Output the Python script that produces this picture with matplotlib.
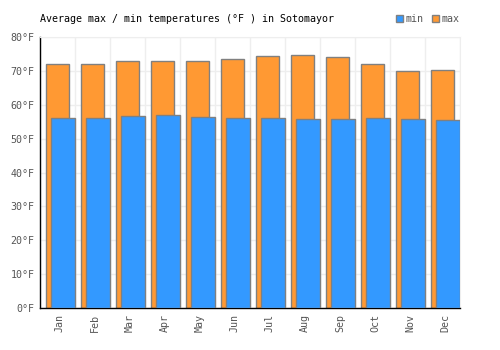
import matplotlib
matplotlib.use('Agg')
import matplotlib.pyplot as plt
import matplotlib.patches as mpatches
import numpy as np

plt.rcParams['font.family'] = ['DejaVu Sans Mono']

MONTHS = ['Jan', 'Feb', 'Mar', 'Apr', 'May', 'Jun',
          'Jul', 'Aug', 'Sep', 'Oct', 'Nov', 'Dec']
T_MAX = [72.0, 72.2, 72.8, 72.8, 73.0, 73.4, 74.5, 74.8, 74.2, 72.0, 70.0, 70.2]
T_MIN = [56.0, 56.0, 56.6, 57.0, 56.5, 56.0, 56.0, 55.7, 55.7, 56.0, 55.7, 55.5]
Y_TICKS = [0, 10, 20, 30, 40, 50, 60, 70, 80]

C_MAX = '#ff9933'
C_MIN = '#3399ff'
C_EDGE = '#808080'
C_TEXT = '#555555'

fig = plt.figure(figsize=(5, 3.5), dpi=100)
ax = fig.add_axes([0.08, 0.12, 0.84, 0.774])

x = np.arange(len(MONTHS))
ax.bar(x + 0.5, T_MAX, width=0.66, color=C_MAX, edgecolor=C_EDGE,
       linewidth=1, zorder=2)
ax.bar(x + 0.655, T_MIN, width=0.69, color=C_MIN, edgecolor=C_EDGE,
       linewidth=1, zorder=3)

ax.set_xlim(0, 12)
ax.set_ylim(0, 80)
ax.set_xticks(x + 0.57)
ax.set_xticklabels(MONTHS, rotation=90, fontsize=7.2, color=C_TEXT)
ax.set_xticks(np.arange(0, 13), minor=True)
ax.set_yticks(Y_TICKS)
ax.set_yticklabels([f'{v}°F' for v in Y_TICKS], fontsize=7.2, color=C_TEXT)
ax.tick_params(axis='both', which='both', length=0, pad=4)
ax.grid(True, which='minor', axis='x', color='#eeeeee', linewidth=1, zorder=0)
ax.grid(True, which='major', axis='y', color='#eeeeee', linewidth=1, zorder=0)
ax.set_axisbelow(True)

for s in ['top', 'right']:
    ax.spines[s].set_color('#eeeeee')
for s in ['left', 'bottom']:
    ax.spines[s].set_color('black')
    ax.spines[s].set_linewidth(1)

fig.text(0.08, 0.945, 'Average max / min temperatures (°F ) in Sotomayor',
         fontsize=7.2, color='black', va='center', ha='left')

handles = [mpatches.Patch(facecolor=C_MIN, edgecolor=C_EDGE, label='min'),
           mpatches.Patch(facecolor=C_MAX, edgecolor=C_EDGE, label='max')]
leg = fig.legend(handles=handles, loc='center right', bbox_to_anchor=(0.92, 0.945),
                 ncol=2, frameon=False, fontsize=7.2, handlelength=0.7,
                 handleheight=0.7, handletextpad=0.3, columnspacing=0.8,
                 borderpad=0, borderaxespad=0)
for t in leg.get_texts():
    t.set_color(C_TEXT)

fig.savefig('out.png', dpi=100)
